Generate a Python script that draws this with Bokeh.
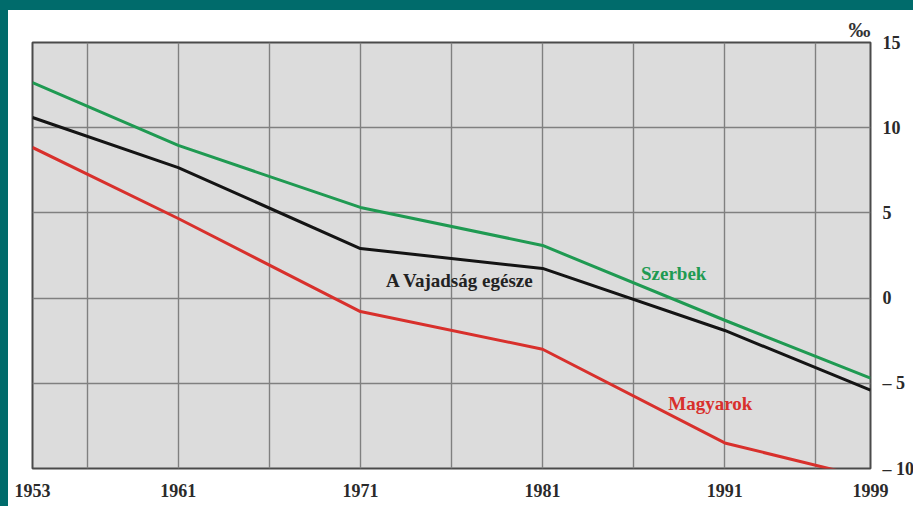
from bokeh.plotting import figure
from bokeh.models import Range1d, FixedTicker, Title, ColumnDataSource
from bokeh.core.properties import value
from bokeh.embed import file_html
from bokeh.resources import INLINE

# ---- data ----
years = [1953, 1961, 1971, 1981, 1991, 1999]
szerbek = [12.65, 8.96, 5.32, 3.09, -1.3, -4.7]
vajdasag = [10.6, 7.66, 2.91, 1.74, -1.9, -5.4]
magyarok = [8.84, 4.67, -0.79, -3.0, -8.5, -10.6]

y_ticks = [15, 10, 5, 0, -5, -10]
y_tick_labels = ["15", "10", "5", "0", "– 5", "– 10"]
x_ticks = [1953, 1961, 1971, 1981, 1991, 1999]
grid_years = [1956, 1961, 1966, 1971, 1976, 1981, 1986, 1991, 1996]
grid_values = [10, 5, 0, -5]

series_names = ["Szerbek", "A Vajadság egésze", "Magyarok"]
label_x = [1986.4, 1972.4, 1987.9]
label_y = [1.44, 1.03, -6.19]

# ---- styles ----
GREEN = "#1f9a52"
BLACK = "#141414"
RED = "#d8302c"
TEAL = "#006b6b"
SERIF = "Liberation Serif"

p = figure(frame_width=838, frame_height=426, output_backend="svg", toolbar_location=None,
           x_range=Range1d(1953, 1999), y_range=Range1d(-10, 15),
           y_axis_location="right",
           min_border_left=24, min_border_top=32, min_border_bottom=0, min_border_right=0)

p.background_fill_color = "#dcdcdc"
p.border_fill_color = "white"
p.outline_line_color = "#4a4a4a"
p.outline_line_width = 2

# grid
p.xgrid.ticker = FixedTicker(ticks=grid_years)
p.ygrid.ticker = FixedTicker(ticks=grid_values)
for g in (p.xgrid, p.ygrid):
    g.grid_line_color = "#808080"
    g.grid_line_width = 1.4

# axes
p.xaxis.ticker = FixedTicker(ticks=x_ticks)
p.yaxis.ticker = FixedTicker(ticks=y_ticks)
p.yaxis.major_label_overrides = {t: l for t, l in zip(y_ticks, y_tick_labels)}
for ax in (p.xaxis, p.yaxis):
    ax.axis_line_color = None
    ax.major_tick_line_color = None
    ax.minor_tick_line_color = None
    ax.major_label_text_font = SERIF
    ax.major_label_text_font_style = "bold"
    ax.major_label_text_font_size = "18px"
    ax.major_label_text_color = "#2a2a2a"
p.xaxis.major_label_standoff = 9
p.yaxis.major_label_standoff = 6

# unit label
p.add_layout(Title(text="‰", align="right", text_font=SERIF, text_font_size="22px",
                   text_font_style="bold", text_color="#333333", standoff=2), "above")

# lines
p.line(years, szerbek, line_color=GREEN, line_width=3)
p.line(years, vajdasag, line_color=BLACK, line_width=3)
p.line(years, magyarok, line_color=RED, line_width=3)

# series labels
src = ColumnDataSource(dict(x=label_x, y=label_y, t=series_names, c=[GREEN, "#222222", RED]))
p.text(x="x", y="y", text="t", text_color="c", source=src,
       text_font=value(SERIF), text_font_style="bold", text_font_size="19px",
       text_baseline="middle", text_align="left")

html = file_html(p, INLINE)
css = ("<style>html { background: white !important; overflow: hidden !important; }"
       " body { background: white !important; overflow: hidden !important;"
       " box-sizing: border-box !important; padding: 0 !important; margin: 0 !important;"
       " border-left: 8px solid " + TEAL + " !important;"
       " border-top: 10px solid " + TEAL + " !important; }</style>")
html = html.replace("</head>", css + "</head>", 1)
open("out.html", "w").write(html)
